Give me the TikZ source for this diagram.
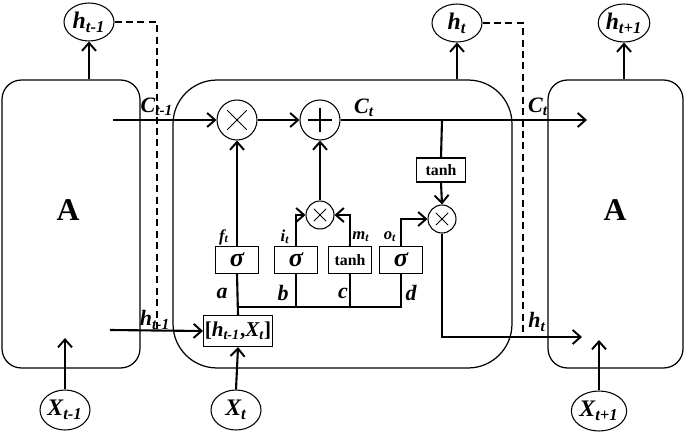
\documentclass[tikz,border=0pt]{standalone}
\usepackage{fontspec}
\setmainfont{Liberation Serif}
\usepackage{tikz}
\usetikzlibrary{shapes.geometric,arrows.meta}

\newcommand{\sublab}[2]{#1\textsubscript{#2}}

\tikzset{
  cell/.style={draw,line width=0.7pt,inner sep=0pt,minimum height=5.76cm},
  state/.style={ellipse,draw,line width=0.6pt,inner sep=0pt,minimum width=1cm,minimum height=0.8cm,font=\fontsize{13.5}{15}\selectfont\bfseries\itshape},
  gate/.style={draw,line width=0.6pt,inner sep=0pt,minimum width=0.86cm,minimum height=0.54cm},
  mulop/.style={circle,draw,line width=0.6pt,inner sep=0pt,minimum size=0.8cm,
    path picture={\draw[line width=0.5pt] ([shift={(-5.5pt,-5.5pt)}]path picture bounding box.center) -- ([shift={(5.5pt,5.5pt)}]path picture bounding box.center)
      ([shift={(-5.5pt,5.5pt)}]path picture bounding box.center) -- ([shift={(5.5pt,-5.5pt)}]path picture bounding box.center);}},
  addop/.style={circle,draw,line width=0.6pt,inner sep=0pt,minimum size=0.8cm,
    path picture={\draw[line width=0.7pt] ([shift={(-7pt,0pt)}]path picture bounding box.center) -- ([shift={(7pt,0pt)}]path picture bounding box.center)
      ([shift={(0pt,-7pt)}]path picture bounding box.center) -- ([shift={(0pt,7pt)}]path picture bounding box.center);}},
  smallmul/.style={circle,draw,line width=0.6pt,inner sep=0pt,minimum size=0.56cm,
    path picture={\draw[line width=0.5pt] ([shift={(-3.5pt,-3.5pt)}]path picture bounding box.center) -- ([shift={(3.5pt,3.5pt)}]path picture bounding box.center)
      ([shift={(-3.5pt,3.5pt)}]path picture bounding box.center) -- ([shift={(3.5pt,-3.5pt)}]path picture bounding box.center);}},
  arr/.style={-{Straight Barb[length=4.5pt,width=8pt,line width=1.1pt]},line width=1.2pt},
  wire/.style={line width=1.2pt},
  link/.style={dashed,line width=0.6pt,dash pattern=on 4pt off 2.5pt},
  lab/.style={inner sep=0pt,font=\fontsize{12.5}{14}\selectfont\bfseries\itshape},
  gatelab/.style={inner sep=0pt,font=\fontsize{9.5}{11}\selectfont\bfseries\itshape},
  sig/.style={font=\fontsize{15}{17}\selectfont\bfseries\itshape},
  tanhf/.style={font=\fontsize{9}{10}\selectfont\bfseries}
}

\begin{document}
\begin{tikzpicture}[x=0.02cm,y=-0.02cm]
        \useasboundingbox (0,0) rectangle (685,432);

        \node[cell,rounded corners=11pt,minimum width=2.76cm] (A1) at (71,224) {};
        \node[cell,rounded corners=25pt,minimum width=6.78cm] (A2) at (342.5,224) {};
        \node[cell,rounded corners=11pt,minimum width=2.7cm] (A3) at (615.5,224) {};
        \node[font=\fontsize{18}{20}\selectfont\bfseries] (a1) at (68,210) {A};
        \node[font=\fontsize{18}{20}\selectfont\bfseries] (a3) at (615,210) {A};

        \node[state,minimum height=0.76cm] (hp) at (89,22) {\sublab{h}{t-1}};
        \node[state,minimum height=0.76cm] (ht) at (457,23) {\sublab{h}{t}};
        \node[state,minimum height=0.76cm] (hn) at (624,23) {\sublab{h}{t+1}};
        \node[state] (xp) at (65,410) {\sublab{X}{t-1}};
        \node[state] (xt) at (236,410) {\sublab{X}{t}};
        \node[state] (xn) at (599,411) {\sublab{X}{t+1}};

        \node[mulop] (fx) at (237,120) {};
        \node[addop] (pl) at (320,120) {};
        \node[smallmul] (ix) at (320,215) {};
        \node[smallmul] (ox) at (442,219) {};

        \node[gate,sig] (sf) at (237,260) {σ};
        \node[gate,sig] (si) at (296,260) {σ};
        \node[gate,tanhf] (tm) at (350,260) {tanh};
        \node[gate,sig] (so) at (401,260) {σ};
        \node[gate,tanhf,minimum width=0.98cm,minimum height=0.48cm] (tc) at (441,170) {tanh};
        \node[gate,minimum width=1.38cm,minimum height=0.62cm,font=\fontsize{12}{13}\selectfont\bfseries] (cat) at (238,331) {[\textit{\sublab{h}{t-1}},\textit{\sublab{X}{t}}]};

        \coordinate (cin) at (113,120);
        \coordinate (cout) at (587,120);
        \coordinate (br) at (442,120);
        \coordinate (hin) at (110,330);
        \coordinate (hout) at (582,337);
        \coordinate (bus) at (237,307);
        \coordinate (xpin) at (65,338);
        \coordinate (xnin) at (599,340);
        \coordinate (d1) at (157,330);
        \coordinate (d2) at (523,337);

        \node[lab] (lc1) at (157,107) {\sublab{C}{t-1}};
        \node[lab] (lh1) at (155,320) {\sublab{h}{t-1}};
        \node[lab] (lc2) at (364,108) {\sublab{C}{t}};
        \node[lab] (lc3) at (538,107) {\sublab{C}{t}};
        \node[lab] (lh3) at (537,322) {\sublab{h}{t}};
        \node[gatelab] (lf) at (224,237) {\sublab{f}{t}};
        \node[gatelab] (li) at (285,237) {\sublab{i}{t}};
        \node[gatelab] (lm) at (361,237) {\sublab{m}{t}};
        \node[gatelab] (lo) at (390,237) {\sublab{o}{t}};
        \node[lab] (la) at (222,293) {a};
        \node[lab] (lb) at (283,293) {b};
        \node[lab] (lcc) at (343,293) {c};
        \node[lab] (ld) at (411,293) {d};

        \draw[link] (hp.east) -| (d1);
        \draw[link] (ht.east) -| (d2);

        \draw[arr] (A1.north -| hp) -- (hp.south);
        \draw[arr] (A2.north -| ht) -- (ht.south);
        \draw[arr] (A3.north -| hn) -- (hn.south);
        \draw[arr] (xp.north) -- (xpin);
        \draw[arr] (xn.north) -- (xnin);
        \draw[arr] (xt.north) -- (cat.south);

        \draw[arr] (cin) -- (fx.west);
        \draw[arr] (fx.east) -- (pl.west);
        \draw[arr] (pl.east) -- (cout);
        \draw[wire] (br) -- (tc.north);
        \draw[arr] (tc.south) -- (ox.north);
        \draw[arr] (ox.south) |- (hout);
        \draw[arr] (hin) -- (cat.west);

        \draw[wire] (cat.north) -- (sf.south);
        \draw[wire] (bus) -| (so.south);
        \draw[wire] (si.south) -- (si.south |- bus);
        \draw[wire] (tm.south) -- (tm.south |- bus);
        \draw[arr] (sf.north) -- (fx.south);
        \draw[arr] (si.north) |- (ix.west);
        \draw[arr] (tm.north) |- (ix.east);
        \draw[arr] (ix.north) -- (pl.south);
        \draw[arr] (so.north) |- (ox.west);
\end{tikzpicture}
\end{document}
